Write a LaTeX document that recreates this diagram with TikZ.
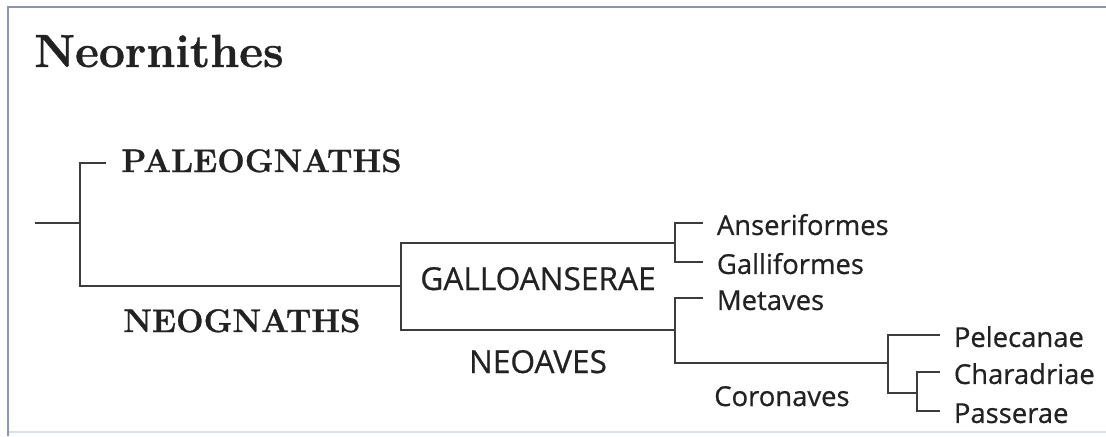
\documentclass[tikz,border=0pt]{standalone}
\usepackage{fontspec}
\setmainfont[BoldFeatures={FakeBold=0.8}]{Latin Modern Roman}
\newfontfamily\cladesans[FakeBold=0.6]{Open Sans}
\usepackage{xcolor}
\usepackage{tikz}
\definecolor{framebar}{HTML}{8C95B8}
\definecolor{framelow}{HTML}{D3E4EF}
\definecolor{branchgray}{HTML}{3C3C3C}
\definecolor{inkgray}{HTML}{222222}

\begin{document}
\begin{tikzpicture}[x=0.025cm,y=-0.025cm,line width=1.8pt]
\tikzstyle{branch}=[draw=branchgray]
\tikzstyle{leaf}=[anchor=west,inner xsep=9pt,inner ysep=0pt,text height=17pt,text depth=0pt,text=inkgray,font=\cladesans\fontsize{19.5}{22}\selectfont]
\tikzstyle{serifleaf}=[anchor=west,inner xsep=10pt,inner ysep=0pt,text height=12.8pt,text depth=0pt,text=inkgray,font=\bfseries\fontsize{23.2}{26}\selectfont]
\tikzstyle{serifclade}=[anchor=base west,inner sep=0pt,text=inkgray,font=\bfseries\fontsize{23.2}{26}\selectfont]
\tikzstyle{sansclade}=[anchor=base,inner sep=0pt,text=inkgray,font=\cladesans\fontsize{22.5}{26}\selectfont]
\tikzstyle{sanssub}=[anchor=base west,inner sep=0pt,text=inkgray,font=\cladesans\fontsize{19.5}{22}\selectfont]
% page and frame
\fill[white] (0,0) rectangle (1106,436);
\useasboundingbox (0,0) rectangle (1106,436);
\draw[framebar,line width=2pt] (8,436) -- (8,7) -- (1106,7);
\draw[framelow,line width=2pt] (9,432) -- (1106,432);
\node[anchor=base west,inner sep=0pt,text=inkgray,font=\bfseries\fontsize{33}{36}\selectfont] (title) at (33,67) {Neornithes};
% forks
\coordinate (root) at (35,223);
\coordinate (n0) at (80,223);
\coordinate (neog) at (401,286);
\coordinate (gallo) at (675,243);
\coordinate (neoav) at (675,330);
\coordinate (coron) at (888,363);
\coordinate (inner) at (917,393);
% leaves
\node[serifleaf] (pal) at (106,163) {PALEOGNATHS};
\node[leaf] (anser) at (703,223) {Anseriformes};
\node[leaf] (galli) at (703,262) {Galliformes};
\node[leaf] (meta) at (703,298) {Metaves};
\node[leaf] (pelec) at (940,335) {Pelecanae};
\node[leaf] (chara) at (940,372) {Charadriae};
\node[leaf] (passe) at (940,411) {Passerae};
% clade names
\node[serifclade] (neogname) at (122,332) {NEOGNATHS};
\node[sansclade] (galloname) at (538,290) {GALLOANSERAE};
\node[sansclade] (neoavname) at (538,373) {NEOAVES};
\node[sanssub] (coronname) at (713,406) {Coronaves};
% branches
\draw[branch] (root) -- (n0);
\draw[branch] (n0) |- (pal.west);
\draw[branch] (n0) |- (neog);
\draw[branch] (neog) |- (gallo);
\draw[branch] (neog) |- (neoav);
\draw[branch] (gallo) |- (anser.west);
\draw[branch] (gallo) |- (galli.west);
\draw[branch] (neoav) |- (meta.west);
\draw[branch] (neoav) |- (coron);
\draw[branch] (coron) |- (pelec.west);
\draw[branch] (coron) |- (inner);
\draw[branch] (inner) |- (chara.west);
\draw[branch] (inner) |- (passe.west);
\end{tikzpicture}
\end{document}
